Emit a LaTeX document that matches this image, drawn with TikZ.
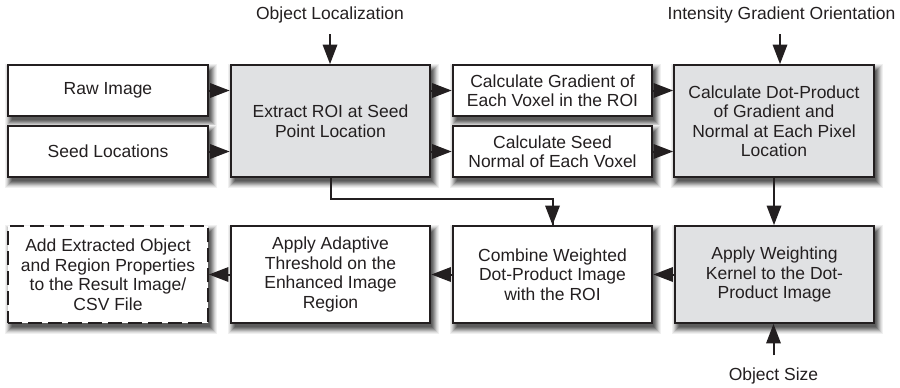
\documentclass[tikz,border=0pt]{standalone}
\usepackage{fontspec}
\setmainfont{Liberation Sans}
\usetikzlibrary{arrows.meta,calc,backgrounds}
\definecolor{ink}{RGB}{35,31,32}
\definecolor{boxgray}{RGB}{224,225,227}
\pgfdeclarearrow{
  name = Wedge,
  parameters = {},
  setup code = {
    \pgfarrowssettipend{0pt}
    \pgfarrowssetlineend{-12pt}
    \pgfarrowssetbackend{-19.5pt}
    \pgfarrowshullpoint{0pt}{0pt}
    \pgfarrowsupperhullpoint{-19.5pt}{7.5pt}
  },
  drawing code = {
    \pgfsetdash{}{0pt}
    \pgfpathmoveto{\pgfqpoint{0pt}{0pt}}
    \pgfpathlineto{\pgfqpoint{-19.5pt}{7.5pt}}
    \pgfpathlineto{\pgfqpoint{-19.5pt}{-7.5pt}}
    \pgfpathclose
    \pgfusepathqfill
  }
}
\begin{document}
\begin{tikzpicture}[x=1pt,y=-1pt,
  font=\fontsize{17.5}{19.5}\selectfont, text=ink,
  box/.style={draw=ink, line width=2.4pt, fill=white, align=center,
    minimum width=199.5pt, inner sep=2pt},
  gbox/.style={box, fill=boxgray},
  smallbox/.style={minimum height=50.5pt},
  tallbox/.style={minimum height=111.5pt},
  lowbox/.style={minimum height=96.5pt},
  dashbox/.style={box, dash pattern=on 14pt off 6pt},
  arr/.style={draw=ink, fill=ink, line width=2pt, -Wedge},
  link/.style={draw=ink, line width=2pt},
  lab/.style={inner sep=0pt}]

\useasboundingbox (0,0) rectangle (900,388);

% top row
\node[box, smallbox] (raw) at (108,90.5) {Raw Image};
\node[box, smallbox] (seed) at (108,151.5) {Seed Locations};
\node[gbox, tallbox] (roi) at (330.5,121) {Extract ROI at Seed\\Point Location};
\node[box, smallbox] (grad) at (552.5,90.5) {Calculate Gradient of\\Each Voxel in the ROI};
\node[box, smallbox] (norm) at (552.5,151.5) {Calculate Seed\\Normal of Each Voxel};
\node[gbox, tallbox] (dot) at (774,121) {Calculate Dot-Product\\of Gradient and\\Normal at Each Pixel\\Location};

% bottom row
\node[dashbox, lowbox] (add) at (108,274.5) {Add Extracted Object\\and Region Properties\\to the Result Image/\\CSV File};
\node[box, lowbox] (thr) at (330.5,274.5) {Apply Adaptive\\Threshold on the\\Enhanced Image\\Region};
\node[box, lowbox] (comb) at (552.5,274.5) {Combine Weighted\\Dot-Product Image\\with the ROI};
\node[gbox, lowbox] (wgt) at (774.5,274.5) {Apply Weighting\\Kernel to the Dot-\\Product Image};

% soft drop shadows (layered, opaque)
\begin{pgfonlayer}{background}
\foreach \n in {raw,seed,roi,grad,norm,dot,add,thr,comb,wgt}{
  \foreach \e/\c in {5/6,4/12,3/20,2/30,1/40,0/50,-1/58,-2/64}{
    \fill[black!\c] ($(\n.north west)+(3-\e,5-\e)$) rectangle ($(\n.south east)+(3+\e,5+\e)$);
  }
}
\end{pgfonlayer}

% labels
\node[lab] (ol) at (330,15) {Object Localization};
\node[lab] (igo) at (781.5,15) {Intensity Gradient Orientation};
\node[lab] (os) at (773.5,376) {Object Size};
\coordinate (olA) at (330,34);
\coordinate (igoA) at (780,34);
\coordinate (osA) at (773.5,355);

% connectors
\draw[arr] (olA) -- (roi.north -| olA);
\draw[arr] (igoA) -- (dot.north -| igoA);
\draw[arr] (osA) -- (wgt.south -| osA);

\draw[arr] (raw.east) -- (roi.west |- raw.east);
\draw[arr] (seed.east) -- (roi.west |- seed.east);
\draw[arr] (roi.east |- grad.west) -- (grad.west);
\draw[arr] (roi.east |- norm.west) -- (norm.west);
\draw[arr] (grad.east) -- (dot.west |- grad.east);
\draw[arr] (norm.east) -- (dot.west |- norm.east);

\draw[link] (roi.south) -- ++(0,21) coordinate (elb) -| (comb.north);
\draw[arr] (elb -| comb.north) -- (comb.north);

\draw[arr] (dot.south) -- (wgt.north -| dot.south);
\draw[arr] (wgt.west) -- (comb.east);
\draw[arr] (comb.west) -- (thr.east);
\draw[arr] (thr.west) -- (add.east);
\end{tikzpicture}
\end{document}
